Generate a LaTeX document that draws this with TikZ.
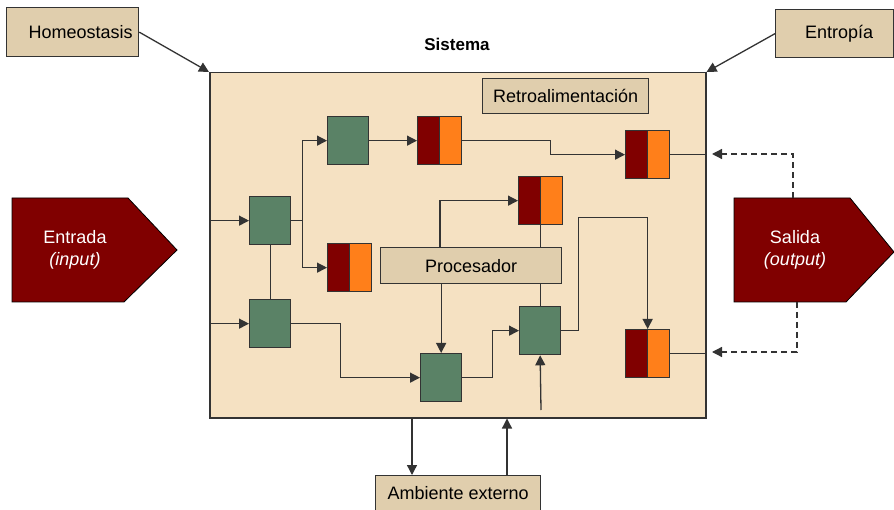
\documentclass[tikz,border=0pt]{standalone}
\usepackage{fontspec}
\setmainfont{Liberation Sans}
\usetikzlibrary{arrows.meta}

\definecolor{sysfill}{HTML}{F5E1C2}
\definecolor{tanfill}{HTML}{E0CEAD}
\definecolor{procgreen}{HTML}{5A8266}
\definecolor{darkred}{HTML}{800000}
\definecolor{orangec}{HTML}{FF7F1A}
\definecolor{edge}{HTML}{333333}

\tikzset{
  labelbox/.style={draw=edge, fill=tanfill, line width=1.3pt, inner sep=0pt, anchor=north west},
  procbox/.style={draw=edge, fill=procgreen, line width=1.3pt, minimum width=41pt,
    minimum height=48pt, inner sep=0pt, anchor=north west},
  store/.style={draw=edge, fill=darkred, line width=1.3pt, minimum width=44pt,
    minimum height=48pt, inner sep=0pt, anchor=north west,
    path picture={
      \fill[orangec] (path picture bounding box.north) rectangle (path picture bounding box.south east);
      \draw[edge, line width=1.3pt] (path picture bounding box.north) -- (path picture bounding box.south);
    }},
  link/.style={draw=edge, line width=1.3pt},
  flow/.style={link, -{Triangle[length=10pt,width=10pt]}},
  feedback/.style={flow, dash pattern=on 6pt off 4pt},
  arrowshape/.style={fill=darkred, draw=black, line width=0.8pt},
  arrowtext/.style={text=white, align=center, font=\fontsize{18}{22}\selectfont},
}

\begin{document}
\begin{tikzpicture}[x=1pt, y=-1pt, font=\fontsize{18}{21}\selectfont]
\useasboundingbox (0,0) rectangle (894,510);

% the system boundary
\node[draw=edge, fill=sysfill, line width=1.5pt, anchor=north west,
      minimum width=496pt, minimum height=345pt, inner sep=0pt] (sys) at (209,72) {};
\node[font=\fontsize{17}{20}\selectfont\bfseries] (sistema) at (457,44) {Sistema};

% outer labels
\node[labelbox, minimum width=132pt, minimum height=49pt, text width=120pt, align=right] (homeo) at (6,7) {Homeostasis};
\node[labelbox, minimum width=118pt, minimum height=48pt] (entropia) at (775,9) {\hspace*{9pt}Entropía};
\node[labelbox, minimum width=165pt, minimum height=35pt] (amb) at (375,475) {Ambiente externo};

% inner labels
\node[labelbox, minimum width=166pt, minimum height=35pt] (retro) at (482,78) {Retroalimentación};
\node[labelbox, minimum width=181pt, minimum height=36pt] (proc) at (380,247) {Procesador};

% processing units
\node[procbox] (g1) at (249,196) {};
\node[procbox] (g2) at (327,116) {};
\node[procbox] (g3) at (249,299) {};
\node[procbox] (g4) at (420,353) {};
\node[procbox] (g5) at (519,306) {};

% stores
\node[store] (r1) at (417,116) {};
\node[store] (r2) at (625,130) {};
\node[store] (r3) at (518,176) {};
\node[store] (r4) at (327,243) {};
\node[store] (r5) at (625,329) {};

% input and output arrows
\path[arrowshape] (12,198) -- (128,198) -- (177,250) -- (124,302) -- (12,302) -- cycle;
\node[arrowtext] (entrada) at (75,250) {Entrada\\\textit{(input)}};
\path[arrowshape] (734,198) -- (850,198) -- (894,252) -- (846,302) -- (734,302) -- cycle;
\node[arrowtext] (salida) at (795,250) {Salida\\\textit{(output)}};

% outer influences
\draw[flow] (homeo.east) -- (sys.north west);
\draw[flow] (entropia.west) -- (sys.north east);

% inputs into the system
\draw[flow] (sys.west |- g1.west) -- (g1.west);
\draw[flow] (sys.west |- g3.west) -- (g3.west);

% internal flow
\draw[link] (g1.south) -- (g3.north);
\draw[link] (g1.east) -- ++(11,0) coordinate (branch);
\draw[flow] (branch) |- (g2.west);
\draw[flow] (branch) |- (r4.west);
\draw[flow] (g2.east) -- (r1.west);
\draw[flow] (r1.east) -- ++(88,0) |- (r2.west);
\draw[link] (r2.east) -- (r2.east -| sys.east);
\draw[link] (r5.east) -- (r5.east -| sys.east);

\coordinate (proctap) at ([xshift=60pt]proc.north west);
\draw[flow] (proctap) |- (r3.west);
\draw[link] (r3.south) -- (r3.south |- proc.north);
\draw[flow] (g4.north |- proc.south) -- (g4.north);
\draw[link] (g5.north |- proc.south) -- (g5.north);

\draw[flow] (g3.east) -- ++(49,0) |- (g4.west);
\draw[flow] (g4.east) -- ++(30,0) |- (g5.west);
\draw[flow] (g5.east) -- ++(17,0) -- ++(0,-113) -| (r5.north);

\coordinate (envin) at (541,410);
\draw[flow] (envin) -- (g5.south);

% exchange with the environment
\coordinate (ambout) at ([xshift=37pt]amb.north west);
\coordinate (ambin) at ([xshift=132pt]amb.north west);
\draw[flow] (ambout |- sys.south) -- (ambout);
\draw[flow] (ambin) -- (ambin |- sys.south);

% feedback from the output
\coordinate (outtop) at (793,198);
\coordinate (outbot) at (797,302);
\coordinate (fbtop) at (712,154);
\coordinate (fbbot) at (712,352);
\draw[feedback] (outtop) |- (fbtop);
\draw[feedback] (outbot) |- (fbbot);
\end{tikzpicture}
\end{document}
